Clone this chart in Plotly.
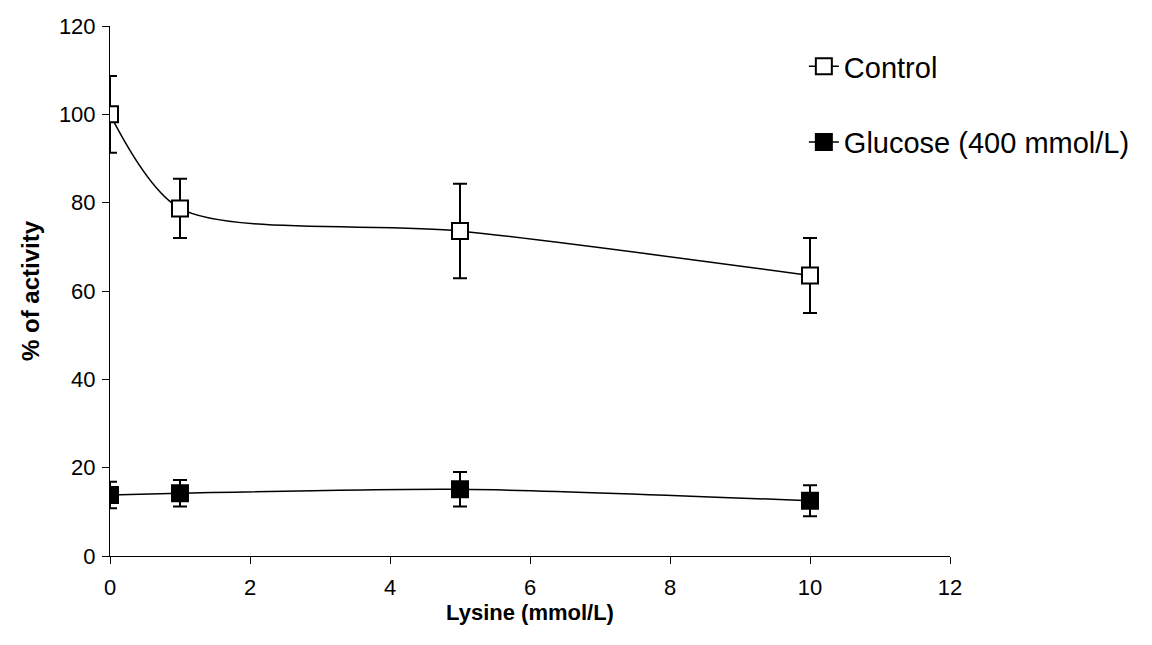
import plotly.graph_objects as go

lysine = [0, 1, 5, 10]
control = [100.0, 78.7, 73.6, 63.5]
control_err = [8.7, 6.7, 10.7, 8.5]
glucose = [13.8, 14.2, 15.1, 12.5]
glucose_err = [3.0, 3.0, 3.9, 3.5]

x_ticks = [0, 2, 4, 6, 8, 10, 12]
y_ticks = [0, 20, 40, 60, 80, 100, 120]

FONT = "Liberation Sans, Arial, sans-serif"

fig = go.Figure()
fig.add_trace(go.Scatter(
    x=lysine, y=control, name="Control", mode="lines+markers",
    line=dict(color="black", width=1.5, shape="spline", smoothing=0.8),
    marker=dict(symbol="square", size=16, color="white", line=dict(color="black", width=2)),
    error_y=dict(type="data", array=control_err, color="black", thickness=2, width=7),
    legendgroup="a",
))
fig.add_trace(go.Scatter(
    x=lysine, y=glucose, name="Glucose (400 mmol/L)", mode="lines+markers",
    line=dict(color="black", width=1.5, shape="spline", smoothing=0.8),
    marker=dict(symbol="square", size=16, color="black", line=dict(color="black", width=2)),
    error_y=dict(type="data", array=glucose_err, color="black", thickness=2, width=7),
    legendgroup="b",
))

fig.update_layout(
    width=1152, height=645,
    margin=dict(l=110, r=202, t=26, b=89),
    paper_bgcolor="white", plot_bgcolor="white",
    font=dict(family=FONT, color="black", size=22),
    showlegend=True,
    legend=dict(x=0.826, y=0.972, xanchor="left", yanchor="top",
                font=dict(size=29, family=FONT), bgcolor="rgba(0,0,0,0)",
                traceorder="grouped", tracegroupgap=35),
    xaxis=dict(range=[0, 12], tickvals=x_ticks, ticks="outside", ticklen=7,
               tickcolor="black", showline=True, linecolor="black", linewidth=1,
               showgrid=False, zeroline=False, tickfont=dict(size=22),
               ticklabelstandoff=5,
               title=dict(text="<b>Lysine (mmol/L)</b>", font=dict(size=22), standoff=0)),
    yaxis=dict(range=[0, 120], tickvals=y_ticks, ticks="outside", ticklen=7,
               tickcolor="black", showline=True, linecolor="black", linewidth=1,
               showgrid=False, zeroline=False, tickfont=dict(size=22),
               ticklabelstandoff=2,
               title=dict(text="<b>% of activity</b>", font=dict(size=24), standoff=12)),
)

fig.write_html("out.html")
